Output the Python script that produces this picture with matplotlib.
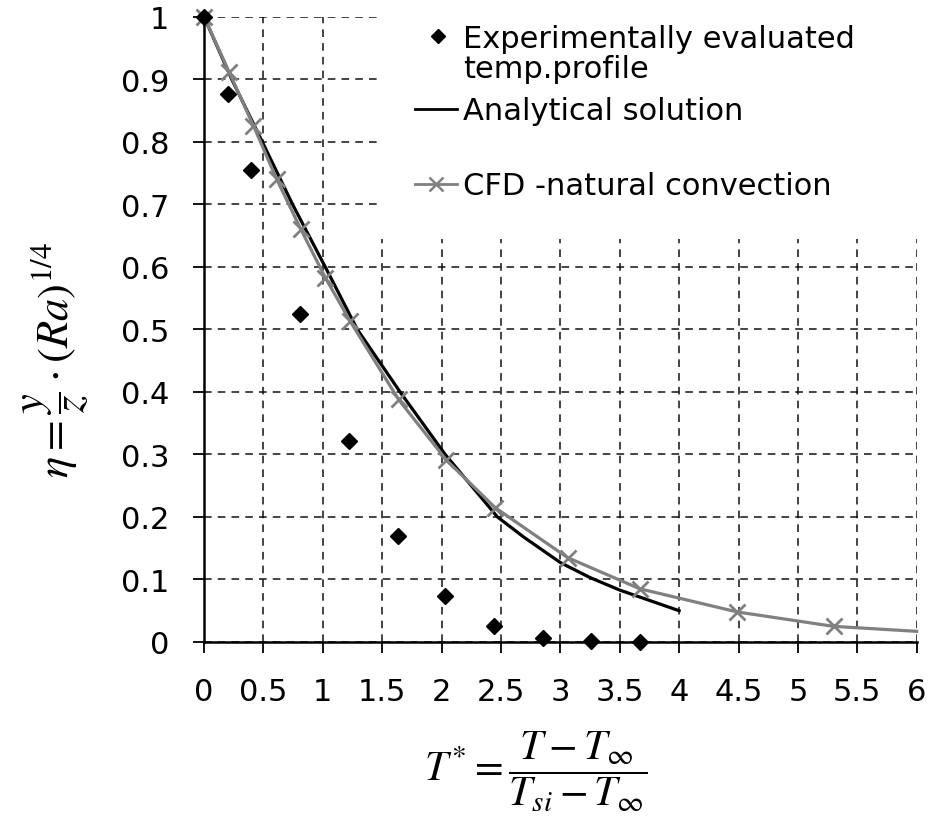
import matplotlib.pyplot as plt
from matplotlib.patches import Rectangle
from matplotlib.lines import Line2D

plt.rcParams["font.family"] = ["DejaVu Sans"]
plt.rcParams["mathtext.fontset"] = "stix"

# experimentally evaluated temperature profile
exp_t = [0, 0.2, 0.395, 0.81, 1.22, 1.63, 2.03, 2.44, 2.85, 3.26, 3.67]
exp_eta = [1.0, 0.876, 0.755, 0.524, 0.322, 0.169, 0.074, 0.025, 0.006, 0.002, 0.0]

# analytical solution
ana_t = [0, 0.233, 0.49, 0.745, 1.02, 1.29, 1.65, 2.03, 2.47, 2.69, 3.0, 3.25, 3.5, 4.0]
ana_eta = [1.0, 0.9, 0.8, 0.7, 0.6, 0.5, 0.4, 0.3, 0.2, 0.168, 0.127, 0.103, 0.083, 0.05]

# CFD - natural convection
cfd_t = [0, 0.21, 0.415, 0.612, 0.815, 1.02, 1.23, 1.637, 2.04, 2.45, 3.06, 3.67, 4.49, 5.30, 6.0]
cfd_eta = [1.0, 0.912, 0.826, 0.740, 0.660, 0.583, 0.513, 0.388, 0.291, 0.215, 0.135, 0.085, 0.048, 0.025, 0.017]
cfd_marked = list(range(len(cfd_t) - 1))

x_ticks = [0, 0.5, 1, 1.5, 2, 2.5, 3, 3.5, 4, 4.5, 5, 5.5, 6]
x_ticklabels = ["0", "0.5", "1", "1.5", "2", "2.5", "3", "3.5", "4", "4.5", "5", "5.5", "6"]
y_ticks = [0, 0.1, 0.2, 0.3, 0.4, 0.5, 0.6, 0.7, 0.8, 0.9, 1.0]
y_ticklabels = ["0", "0.1", "0.2", "0.3", "0.4", "0.5", "0.6", "0.7", "0.8", "0.9", "1"]

fig = plt.figure(figsize=(9.45, 8.29), dpi=100)
ax = fig.add_axes([0.216, 0.2244, 0.754, 0.754])

ax.set_xlim(0, 6)
ax.set_ylim(0, 1)
ax.set_xticks(x_ticks)
ax.set_xticklabels(x_ticklabels)
ax.set_yticks(y_ticks)
ax.set_yticklabels(y_ticklabels)
ax.tick_params(axis="both", labelsize=22, direction="out", length=8, width=1.3, color="black")
ax.tick_params(axis="x", pad=17)
ax.tick_params(axis="y", pad=17)

for side in ["top", "right"]:
    ax.spines[side].set_visible(False)
for side in ["left", "bottom"]:
    ax.spines[side].set_linewidth(1.8)
    ax.spines[side].set_zorder(6)

ax.grid(True, linestyle=(0, (5, 4)), color="#111111", linewidth=1.1, zorder=1)
ax.set_axisbelow(True)

# white box behind the legend hides the grid there
ax.add_patch(Rectangle((0.244, 0.645), 0.8, 0.4, transform=ax.transAxes,
                       facecolor="white", edgecolor="none", zorder=2, clip_on=False))

ax.plot(ana_t, ana_eta, color="black", linewidth=2.3, zorder=4)
ax.plot(cfd_t, cfd_eta, color="#808080", linewidth=2.3, marker="x", markersize=12,
        markeredgewidth=2.0, markevery=cfd_marked, zorder=4, clip_on=False)
ax.plot(exp_t, exp_eta, linestyle="none", marker="D", markersize=8,
        color="black", zorder=5, clip_on=False)

# legend, laid out as in the original
tx = 0.363
ax.add_line(Line2D([0.328], [0.970], transform=ax.transAxes, marker="D", markersize=7,
                   color="black", linestyle="none", zorder=7, clip_on=False))
ax.text(tx, 0.952, "Experimentally evaluated", transform=ax.transAxes, fontsize=22,
        va="baseline", zorder=7)
ax.text(tx, 0.904, "temp.profile", transform=ax.transAxes, fontsize=22,
        va="baseline", zorder=7)
ax.add_line(Line2D([0.296, 0.355], [0.853, 0.853], transform=ax.transAxes,
                   color="black", linewidth=2.0, zorder=7, clip_on=False))
ax.text(tx, 0.837, "Analytical solution", transform=ax.transAxes, fontsize=22,
        va="baseline", zorder=7)
ax.add_line(Line2D([0.296, 0.355], [0.733, 0.733], transform=ax.transAxes,
                   color="#808080", linewidth=2.0, zorder=7, clip_on=False))
ax.add_line(Line2D([0.3255], [0.733], transform=ax.transAxes, marker="x", markersize=10,
                   markeredgewidth=1.8, color="#808080", linestyle="none", zorder=7, clip_on=False))
ax.text(tx, 0.717, "CFD -natural convection", transform=ax.transAxes, fontsize=22,
        va="baseline", zorder=7)

fig.text(56 / 945, 1 - 360 / 829, r"$\eta = \dfrac{y}{z}\cdot\left(Ra\right)^{1/4}$",
         rotation=90, ha="center", va="center", fontsize=32)
fig.text(536 / 945, 1 - 772 / 829, r"$T^{*} = \dfrac{T - T_{\infty}}{T_{si} - T_{\infty}}$",
         ha="center", va="center", fontsize=30)

fig.savefig("out.png", dpi=100)
